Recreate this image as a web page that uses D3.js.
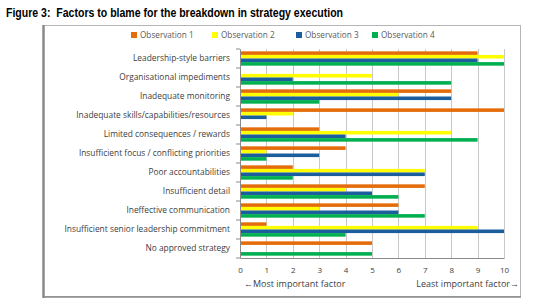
<!DOCTYPE html>
<html>
<head>
<meta charset="utf-8">
<script src="https://cdn.jsdelivr.net/npm/d3@7"></script>
<style>
  body { margin: 0; background: #fff; }
</style>
</head>
<body>
<div id="chart"></div>
<script>
// categories, top to bottom
const categories = [
  "Leadership-style barriers",
  "Organisational impediments",
  "Inadequate monitoring",
  "Inadequate skills/capabilities/resources",
  "Limited consequences / rewards",
  "Insufficient focus / conflicting priorities",
  "Poor accountabilities",
  "Insufficient detail",
  "Ineffective communication",
  "Insufficient senior leadership commitment",
  "No approved strategy"
];
const seriesNames = ["Observation 1", "Observation 2", "Observation 3", "Observation 4"];
const obs1 = [9, 0, 8, 10, 3, 4, 2, 7, 6, 1, 5];
const obs2 = [10, 5, 6, 2, 8, 1, 7, 4, 3, 9, 0];
const obs3 = [9, 2, 8, 1, 4, 3, 7, 5, 6, 10, 0];
const obs4 = [10, 8, 3, 0, 9, 1, 2, 6, 7, 4, 5];
const xTicks = [0, 1, 2, 3, 4, 5, 6, 7, 8, 9, 10];
const colors = ["#E46C0A", "#FFFF00", "#1B5E9E", "#00B050"];

const allSeries = [obs1, obs2, obs3, obs4];

const W = 540, H = 308;
const svg = d3.select("#chart").append("svg")
  .attr("width", W).attr("height", H);

// title (narrow bold look, squeezed to the original width)
svg.append("text")
  .attr("x", 6).attr("y", 17)
  .attr("font-family", "Liberation Sans, Arial")
  .attr("font-weight", "bold")
  .attr("font-size", "12.5px")
  .attr("fill", "#000")
  .attr("textLength", 337)
  .attr("lengthAdjust", "spacingAndGlyphs")
  .style("white-space", "pre")
  .text("Figure 3:  Factors to blame for the breakdown in strategy execution");

// chart frame
svg.append("rect")
  .attr("x", 43.5).attr("y", 25.5).attr("width", 477).attr("height", 271)
  .attr("fill", "#fff").attr("stroke", "#b5b5b5");
svg.append("line").attr("x1", 43.5).attr("x2", 43.5).attr("y1", 25).attr("y2", 298)
  .attr("stroke", "#8a8a8a").attr("stroke-width", 2.5);
svg.append("line").attr("x1", 43).attr("x2", 521).attr("y1", 297).attr("y2", 297)
  .attr("stroke", "#8a8a8a").attr("stroke-width", 1.5);

const plotLeft = 240, plotRight = 504, plotTop = 49, plotBottom = 258;

const x = d3.scaleLinear().domain([0, 10]).range([plotLeft, plotRight]);
const y0 = d3.scaleBand().domain(categories).range([plotTop, plotBottom]).padding(0);
const y1 = d3.scaleBand().domain(seriesNames).range([0, y0.bandwidth()])
  .paddingInner(0).paddingOuter(0.65);

// gridlines
svg.append("g").selectAll("line")
  .data(xTicks)
  .join("line")
    .attr("x1", d => Math.round(x(d)) + 0.5)
    .attr("x2", d => Math.round(x(d)) + 0.5)
    .attr("y1", plotTop).attr("y2", plotBottom)
    .attr("stroke", "#c8c8c8");

// bars
const groups = svg.append("g").selectAll("g")
  .data(categories)
  .join("g")
    .attr("transform", d => `translate(0,${y0(d)})`);

groups.selectAll("rect")
  .data((c, i) => seriesNames.map((s, j) => ({ s, j, v: allSeries[j][i] })))
  .join("rect")
    .attr("x", x(0))
    .attr("y", d => y1(d.s))
    .attr("width", d => x(d.v) - x(0))
    .attr("height", y1.bandwidth())
    .attr("fill", d => colors[d.j]);

// x axis
const xAxis = svg.append("g")
  .attr("transform", `translate(0,${plotBottom})`)
  .call(d3.axisBottom(x).tickValues(xTicks).tickSize(0).tickPadding(9).tickFormat(d3.format("d")));
xAxis.select(".domain").attr("stroke", "#8a8a8a");
xAxis.selectAll("text")
  .attr("font-family", "Open Sans, sans-serif")
  .attr("font-size", "8px")
  .attr("fill", "#404040");

// y axis
const yAxis = svg.append("g")
  .attr("transform", `translate(${plotLeft},0)`)
  .call(d3.axisLeft(y0).tickSize(0).tickPadding(10));
yAxis.select(".domain").attr("stroke", "#8a8a8a");
yAxis.selectAll("text")
  .attr("font-family", "Open Sans, sans-serif")
  .attr("font-size", "8.4px")
  .attr("fill", "#404040");
// tick marks at category boundaries
svg.append("g").selectAll("line")
  .data(categories.map(c => y0(c)).concat([plotBottom]))
  .join("line")
    .attr("x1", plotLeft - 4).attr("x2", plotLeft)
    .attr("y1", d => d).attr("y2", d => d)
    .attr("stroke", "#8a8a8a");

// legend
const legendX = [131, 212, 296, 372];
const legend = svg.append("g").selectAll("g")
  .data(seriesNames)
  .join("g")
    .attr("transform", (d, i) => `translate(${legendX[i]},35)`);
legend.append("rect")
  .attr("x", 0).attr("y", -3).attr("width", 6).attr("height", 6)
  .attr("fill", (d, i) => colors[i]);
legend.append("text")
  .attr("x", 9).attr("y", 3)
  .attr("font-family", "Open Sans, sans-serif")
  .attr("font-size", "8.2px")
  .attr("fill", "#595959")
  .text(d => d);

// axis notes
svg.append("text")
  .attr("x", 244).attr("y", 287)
  .attr("font-family", "Open Sans, sans-serif")
  .attr("font-size", "9px")
  .attr("fill", "#404040")
  .text("\u2190Most important factor");
svg.append("text")
  .attr("x", 519).attr("y", 287)
  .attr("text-anchor", "end")
  .attr("font-family", "Open Sans, sans-serif")
  .attr("font-size", "9px")
  .attr("fill", "#404040")
  .text("Least important factor\u2192");
</script>
</body>
</html>
